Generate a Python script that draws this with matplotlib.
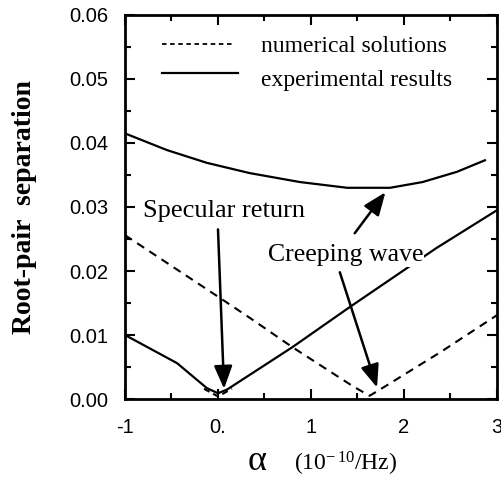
import numpy as np
import matplotlib
matplotlib.use("Agg")
import matplotlib.pyplot as plt
from matplotlib.ticker import MultipleLocator

# Curvas
x_exp_cw = [-1, -0.55, -0.12, 0.34, 0.88, 1.39, 1.85, 2.2, 2.57, 2.87]
y_exp_cw = [0.0415, 0.0389, 0.0369, 0.0353, 0.0339, 0.033, 0.033, 0.0339, 0.0355, 0.0373]

x_exp_sp = [-1, -0.44, -0.12, 0.0, 0.1, 0.8, 1.42, 2.35, 3.0]
y_exp_sp = [0.010, 0.0056, 0.0017, 0.0009, 0.0015, 0.0081, 0.0144, 0.0236, 0.0295]

x_num_cw = [-1, 0.02, 0.34, 0.8, 1.45, 1.63, 1.8, 2.39, 3.0]
y_num_cw = [0.0256, 0.0158, 0.0127, 0.0081, 0.0020, 0.0005, 0.0020, 0.0073, 0.0131]

x_num_sp = [-0.15, 0.0, 0.15]
y_num_sp = [0.0016, 0.0004, 0.0016]

x_ticks = [-1, 0, 1, 2, 3]
x_ticklabels = ['-1', '0.', '1', '2', '3']
y_ticks = [0.0, 0.01, 0.02, 0.03, 0.04, 0.05, 0.06]
y_ticklabels = ['0.00', '0.01', '0.02', '0.03', '0.04', '0.05', '0.06']

serif = 'Liberation Serif'
sans = 'Liberation Sans'
plt.rcParams['mathtext.fontset'] = 'custom'
plt.rcParams['mathtext.rm'] = serif
plt.rcParams['mathtext.it'] = serif + ':italic'

fig = plt.figure(figsize=(5.01, 4.79), dpi=100)
ax = fig.add_axes([0.2495, 0.167, 0.7425, 0.8017])

ax.plot(x_num_cw, y_num_cw, '--', color='black', lw=1.5, dashes=(4, 3))
ax.plot(x_num_sp, y_num_sp, '--', color='black', lw=1.5, dashes=(3, 2))
ax.plot(x_exp_cw, y_exp_cw, '-', color='black', lw=1.6)
ax.plot(x_exp_sp, y_exp_sp, '-', color='black', lw=1.6)

ax.set_xlim(-1, 3)
ax.set_ylim(0, 0.06)
ax.set_xticks(x_ticks)
ax.set_xticklabels(x_ticklabels, fontfamily=sans, fontsize=14.5)
ax.set_yticks(y_ticks)
ax.set_yticklabels(y_ticklabels, fontfamily=sans, fontsize=14.5)
ax.xaxis.set_minor_locator(MultipleLocator(0.5))
ax.yaxis.set_minor_locator(MultipleLocator(0.005))
ax.tick_params(which='both', direction='in', top=True, right=True, width=1.5)
ax.tick_params(which='major', length=7)
ax.tick_params(which='minor', length=4)
ax.tick_params(axis='y', pad=12)
ax.tick_params(axis='x', pad=14)
for s in ax.spines.values():
    s.set_linewidth(2)

# Legenda desenhada à mão
ax.plot([-0.6, 0.16], [0.0555, 0.0555], '--', color='black', lw=1.3, dashes=(2.5, 2))
ax.plot([-0.6, 0.21], [0.0509, 0.0509], '-', color='black', lw=1.6)
ax.text(0.46, 0.0550, 'numerical solutions', fontfamily=serif, fontsize=17, va='center')
ax.text(0.46, 0.0498, 'experimental results', fontfamily=serif, fontsize=17, va='center')

# Anotações
seta = dict(arrowstyle='-|>,head_length=1.0,head_width=0.4', color='black', lw=1.8,
            mutation_scale=14, shrinkA=0, shrinkB=0)
ax.text(0.065, 0.0293, 'Specular return', fontfamily=serif, fontsize=19,
        ha='center', va='center')
ax.annotate('', xy=(0.065, 0.0016), xytext=(0.0, 0.0265), arrowprops=seta)
ax.text(1.37, 0.0225, 'Creeping wave', fontfamily=serif, fontsize=18.5,
        ha='center', va='center',
        bbox=dict(facecolor='white', edgecolor='none', pad=1.0))
ax.annotate('', xy=(1.71, 0.0018), xytext=(1.31, 0.0198), arrowprops=seta)
ax.annotate('', xy=(1.80, 0.0323), xytext=(1.47, 0.0259), arrowprops=seta)

ax.set_ylabel('Root-pair  separation', fontfamily=serif, fontsize=20,
              fontweight='bold', labelpad=23)
fig.text(0.513, 0.018, 'α', fontfamily=serif, fontsize=26, ha='center', va='baseline')
fig.text(0.69, 0.018, r'(10$^{-\,10}$/Hz)', fontfamily=serif, fontsize=17,
         ha='center', va='baseline')

fig.savefig('out.png', dpi=100)
